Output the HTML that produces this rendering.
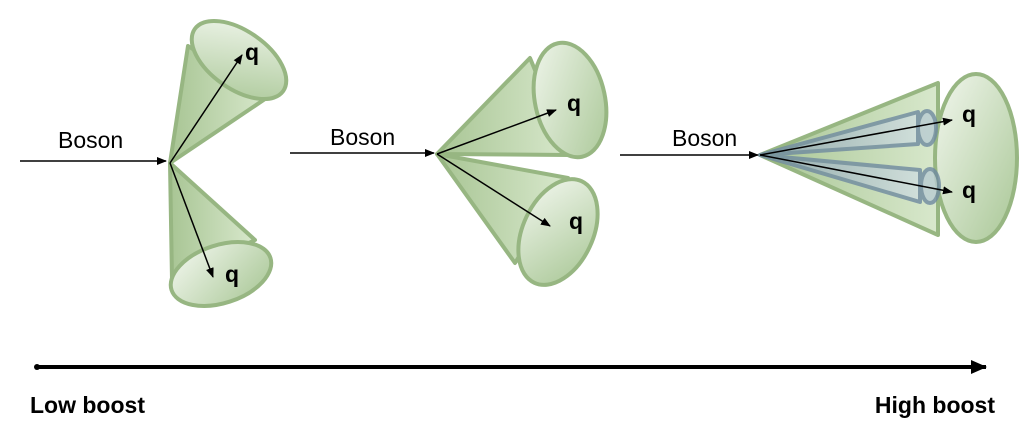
<!DOCTYPE html>
<html><head><meta charset="utf-8"><style>
body{margin:0;background:#fff;}
svg{display:block;}
text{font-family:"Liberation Sans",sans-serif;}
</style></head><body>
<svg width="1020" height="443" viewBox="0 0 1020 443" xmlns="http://www.w3.org/2000/svg">
<defs>
<linearGradient id="g" x1="0" y1="0" x2="1" y2="1">
<stop offset="0" stop-color="#f2f7ee"/><stop offset="1" stop-color="#a9c796"/>
</linearGradient>
<linearGradient id="gc" x1="0" y1="0" x2="1" y2="0">
<stop offset="0" stop-color="#a8c594"/><stop offset="1" stop-color="#d8e8cc"/>
</linearGradient>
<linearGradient id="gb" x1="0" y1="0" x2="1" y2="0">
<stop offset="0" stop-color="#8aa2b0"/><stop offset="1" stop-color="#d0dedf"/>
</linearGradient>
<marker id="a" markerWidth="10" markerHeight="8" refX="9" refY="4" orient="auto" markerUnits="userSpaceOnUse">
<path d="M0,0 L10,4 L0,8 z" fill="#000"/></marker>
<marker id="ab" markerWidth="16" markerHeight="14" refX="15" refY="7" orient="auto" markerUnits="userSpaceOnUse">
<path d="M0,0 L16,7 L0,14 z" fill="#000"/></marker>
</defs>
<g stroke="#97b682" stroke-width="4" stroke-linejoin="round">
<polygon points="170,163 188,46 268,97" fill="url(#gc)"/>
<ellipse cx="239" cy="60" rx="54" ry="29" transform="rotate(35 239 60)" fill="url(#g)"/>
<polygon points="170,163 172,280 255,240" fill="url(#gc)"/>
<ellipse cx="221" cy="274" rx="52" ry="29" transform="rotate(-18 221 274)" fill="url(#g)"/>
<polygon points="437,154 530,58 570,155" fill="url(#gc)"/>
<ellipse cx="570" cy="100" rx="35" ry="58" transform="rotate(-12 570 100)" fill="url(#g)"/>
<polygon points="437,154 568,178 515,263" fill="url(#gc)"/>
<ellipse cx="558" cy="232" rx="35" ry="56" transform="rotate(25 558 232)" fill="url(#g)"/>
<polygon points="760,155 938,83 938,235" fill="url(#gc)"/>
<ellipse cx="976" cy="158" rx="41" ry="84" fill="url(#g)"/>
</g>
<g stroke="#6f8aa0" stroke-width="4" stroke-linejoin="round" opacity="0.8">
<polygon points="760,155 918,112 918,144" fill="url(#gb)"/>
<ellipse cx="927" cy="128" rx="9" ry="17" fill="#b9ccd2"/>
<polygon points="760,155 920,170 920,202" fill="url(#gb)"/>
<ellipse cx="930" cy="186" rx="9" ry="17" fill="#b9ccd2"/>
</g>
<g stroke="#000" stroke-width="1.5" fill="none" marker-end="url(#a)">
<line x1="170" y1="163" x2="242" y2="55"/>
<line x1="170" y1="163" x2="213" y2="277"/>
<line x1="437" y1="154" x2="556" y2="110"/>
<line x1="437" y1="154" x2="550" y2="226"/>
<line x1="760" y1="155" x2="952" y2="120"/>
<line x1="760" y1="155" x2="952" y2="192"/>
<line x1="20" y1="161" x2="166" y2="161"/>
<line x1="290" y1="153" x2="434" y2="153"/>
<line x1="620" y1="155" x2="758" y2="155"/>
</g>
<g font-size="23" fill="#000">
<text x="58" y="148">Boson</text>
<text x="330" y="145">Boson</text>
<text x="672" y="146">Boson</text>
</g>
<g font-size="23" font-weight="bold" fill="#000">
<text x="245" y="60">q</text>
<text x="225" y="282">q</text>
<text x="567" y="111">q</text>
<text x="569" y="229">q</text>
<text x="962" y="122">q</text>
<text x="962" y="198">q</text>
</g>
<line x1="35" y1="367" x2="986" y2="367" stroke="#000" stroke-width="4" marker-end="url(#ab)"/>
<circle cx="37" cy="367" r="3" fill="#000"/>
<g font-size="23" font-weight="bold" fill="#000">
<text x="30" y="413">Low boost</text>
<text x="995" y="413" text-anchor="end">High boost</text>
</g>
</svg>
</body></html>
